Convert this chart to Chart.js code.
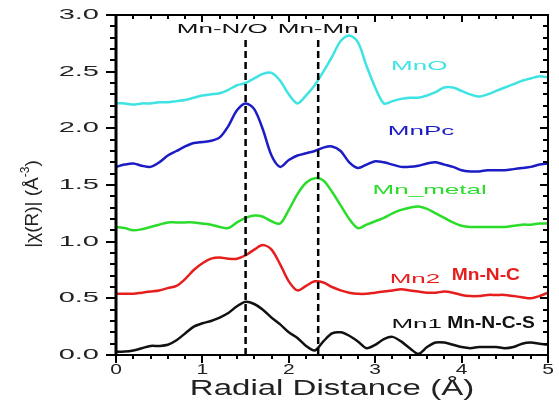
<!DOCTYPE html>
<html>
<head>
<meta charset="utf-8">
<script src="https://cdn.jsdelivr.net/npm/chart.js@4.4.1/dist/chart.umd.min.js"></script>
<style>
  html, body { margin: 0; background: #fff; }
  #wrap { width: 559px; height: 404px; }
</style>
</head>
<body>
<div id="wrap"><canvas id="exafs"></canvas></div>
<script>
// radial distance grid (Å)
const r = [0.0,0.1,0.2,0.3,0.4,0.5,0.6,0.7,0.8,0.9,1.0,1.1,1.2,1.3,1.4,1.5,1.6,1.7,1.8,1.9,
           2.0,2.1,2.2,2.3,2.4,2.5,2.6,2.7,2.8,2.9,3.0,3.1,3.2,3.3,3.4,3.5,3.6,3.7,3.8,3.9,
           4.0,4.1,4.2,4.3,4.4,4.5,4.6,4.7,4.8,4.9,5.0];

// |chi(R)| curves, already offset as in the figure
const mnO = [2.22,2.22,2.21,2.22,2.22,2.23,2.23,2.24,2.25,2.27,2.29,2.30,2.31,2.34,2.38,2.40,2.44,2.48,2.49,2.42,
             2.30,2.22,2.29,2.38,2.50,2.63,2.77,2.82,2.76,2.55,2.36,2.22,2.24,2.26,2.27,2.27,2.29,2.32,2.36,2.36,
             2.33,2.30,2.28,2.30,2.33,2.36,2.39,2.42,2.44,2.46,2.45];
const mnPc = [1.66,1.68,1.69,1.67,1.66,1.70,1.76,1.80,1.84,1.87,1.88,1.89,1.92,2.02,2.16,2.22,2.17,1.99,1.76,1.66,
              1.72,1.76,1.78,1.80,1.83,1.84,1.80,1.70,1.65,1.68,1.71,1.70,1.68,1.66,1.66,1.67,1.69,1.70,1.68,1.66,
              1.63,1.62,1.62,1.63,1.63,1.63,1.64,1.65,1.66,1.68,1.69];
const mnMetal = [1.13,1.12,1.10,1.11,1.13,1.15,1.17,1.17,1.17,1.17,1.16,1.15,1.13,1.12,1.17,1.21,1.23,1.22,1.18,1.16,
                 1.28,1.42,1.52,1.56,1.54,1.44,1.32,1.20,1.12,1.15,1.18,1.21,1.25,1.28,1.30,1.31,1.29,1.25,1.21,1.17,
                 1.14,1.13,1.13,1.13,1.13,1.13,1.14,1.15,1.15,1.16,1.16];
const mn2 = [0.54,0.54,0.54,0.55,0.56,0.57,0.59,0.61,0.67,0.75,0.81,0.85,0.86,0.85,0.85,0.88,0.93,0.97,0.93,0.80,
             0.65,0.57,0.61,0.65,0.64,0.60,0.57,0.55,0.54,0.54,0.55,0.56,0.57,0.58,0.57,0.56,0.55,0.55,0.56,0.55,
             0.53,0.52,0.52,0.53,0.53,0.53,0.52,0.51,0.50,0.52,0.55];
const mn1 = [0.03,0.03,0.04,0.06,0.08,0.08,0.09,0.13,0.19,0.25,0.28,0.30,0.33,0.37,0.43,0.47,0.45,0.40,0.33,0.27,
             0.20,0.15,0.08,0.04,0.12,0.19,0.20,0.17,0.12,0.06,0.09,0.14,0.16,0.12,0.06,0.01,0.07,0.11,0.11,0.09,
             0.07,0.06,0.07,0.07,0.07,0.06,0.07,0.10,0.11,0.10,0.09];

// dashed reference shells
const shellR = [1.5, 2.34];
const shellTop = 2.8;

const xTicks = [0, 1, 2, 3, 4, 5];
const xTickLabels = ['0', '1', '2', '3', '4', '5'];
const yTicks = [0, 0.5, 1.0, 1.5, 2.0, 2.5, 3.0];
const yTickLabels = ['0.0', '0.5', '1.0', '1.5', '2.0', '2.5', '3.0'];

const colors = { mnO: '#3fe3e3', mnPc: '#1c1cc4', mnMetal: '#2bdc2b', mn2: '#e61e1e', mn1: '#111111' };

// text placed in data coordinates: [text, x, y, colour, font, horizontal stretch]
const FONT = '"Liberation Sans", Arial, sans-serif';
const notes = [
  ['Mn-N/O', 1.23, 2.87, '#111', '13px ' + FONT, 2.0],
  ['Mn-Mn', 2.34, 2.87, '#111', '13px ' + FONT, 2.0],
  ['MnO', 3.51, 2.55, colors.mnO, '13px ' + FONT, 2.0],
  ['MnPc', 3.53, 1.97, colors.mnPc, '13px ' + FONT, 2.0],
  ['Mn_metal', 3.63, 1.45, colors.mnMetal, '13px ' + FONT, 2.0],
  ['Mn2', 3.46, 0.67, colors.mn2, '13px ' + FONT, 2.0],
  ['Mn-N-C', 4.28, 0.70, colors.mn2, 'bold 16px ' + FONT, 1.2],
  ['Mn1', 3.48, 0.27, '#111', '13px ' + FONT, 2.0],
  ['Mn-N-C-S', 4.34, 0.28, '#111', 'bold 16px ' + FONT, 1.2]
];

function pts(ys) { return ys.map((y, i) => ({ x: r[i], y: y })); }

function stretchText(ctx, txt, x, y, font, color, sx, align) {
  ctx.save();
  ctx.font = font;
  ctx.fillStyle = color;
  ctx.textBaseline = 'middle';
  ctx.textAlign = 'left';
  const w = ctx.measureText(txt).width * sx;
  const left = align === 'center' ? x - w / 2 : (align === 'right' ? x - w : x);
  ctx.translate(left, y);
  ctx.scale(sx, 1);
  ctx.fillText(txt, 0, 0);
  ctx.restore();
}

const framePlugin = {
  id: 'frame',
  afterDraw(chart) {
    const ctx = chart.ctx, a = chart.chartArea;
    const xs = chart.scales.x, ys = chart.scales.y;
    ctx.save();
    ctx.strokeStyle = '#000';
    ctx.lineWidth = 2;
    ctx.strokeRect(a.left, a.top, a.right - a.left, a.bottom - a.top);
    ctx.lineWidth = 3;
    ctx.beginPath(); ctx.moveTo(a.left, a.top - 1); ctx.lineTo(a.left, a.bottom + 1); ctx.stroke();

    ctx.lineWidth = 2;
    ctx.beginPath();
    // x ticks: bottom outward, top inward
    for (let v = 0; v <= 5.0001; v += 0.2) {
      const px = Math.round(xs.getPixelForValue(v));
      const major = Math.abs(v - Math.round(v)) < 1e-6;
      ctx.moveTo(px, a.bottom); ctx.lineTo(px, a.bottom + (major ? 8 : 4));
      ctx.moveTo(px, a.top); ctx.lineTo(px, a.top + (major ? 7 : 4));
    }
    // y ticks: left outward, right inward
    for (let v = 0; v <= 3.0001; v += 0.1) {
      const py = Math.round(ys.getPixelForValue(v));
      const major = Math.abs(v * 2 - Math.round(v * 2)) < 1e-6;
      ctx.moveTo(a.left, py); ctx.lineTo(a.left - (major ? 10 : 6), py);
      ctx.moveTo(a.right, py); ctx.lineTo(a.right - (major ? 8 : 5), py);
    }
    ctx.stroke();
    ctx.restore();

    xTicks.forEach((v, i) => stretchText(ctx, xTickLabels[i], xs.getPixelForValue(v), a.bottom + 15,
      '14px ' + FONT, '#222', 1.5, 'center'));
    yTicks.forEach((v, i) => stretchText(ctx, yTickLabels[i], a.left - 17, ys.getPixelForValue(v),
      '14.5px ' + FONT, '#222', 2.0, 'right'));

    stretchText(ctx, 'Radial Distance (Å)', (a.left + a.right) / 2, a.bottom + 34,
      '22px ' + FONT, '#222', 1.5, 'center');

    // y title, rotated
    ctx.save();
    ctx.translate(33, 204);
    ctx.rotate(-Math.PI / 2);
    ctx.fillStyle = '#222';
    ctx.textBaseline = 'middle';
    ctx.font = '19px ' + FONT;
    const p1 = '|χ(R)| (Å', sup = '-3', p2 = ')';
    const w1 = ctx.measureText(p1).width, w3 = ctx.measureText(p2).width;
    ctx.font = '12px ' + FONT;
    const w2 = ctx.measureText(sup).width;
    let x0 = -(w1 + w2 + w3) / 2;
    ctx.font = '19px ' + FONT;
    ctx.fillText(p1, x0, 0);
    ctx.font = '12px ' + FONT;
    ctx.fillText(sup, x0 + w1, -7);
    ctx.font = '19px ' + FONT;
    ctx.fillText(p2, x0 + w1 + w2, 0);
    ctx.restore();

    notes.forEach(n => stretchText(ctx, n[0], xs.getPixelForValue(n[1]), ys.getPixelForValue(n[2]),
      n[4], n[3], n[5], 'center'));
  }
};

const line = (label, ys, color) => ({
  label, data: pts(ys), borderColor: color, borderWidth: 2.5, pointRadius: 0, tension: 0.3, fill: false
});

const shells = shellR.map(x => ({
  label: 'shell ' + x, data: [{ x: x, y: 0 }, { x: x, y: shellTop }],
  borderColor: '#000', borderWidth: 2.5, borderDash: [7, 4], pointRadius: 0, tension: 0, fill: false
}));

new Chart(document.getElementById('exafs'), {
  type: 'line',
  data: {
    datasets: [
      ...shells,
      line('MnO', mnO, colors.mnO),
      line('MnPc', mnPc, colors.mnPc),
      line('Mn_metal', mnMetal, colors.mnMetal),
      line('Mn2', mn2, colors.mn2),
      line('Mn1', mn1, colors.mn1)
    ]
  },
  options: {
    responsive: true,
    maintainAspectRatio: false,
    animation: false,
    layout: { padding: { left: 0, right: 11, top: 15, bottom: 0 } },
    plugins: { legend: { display: false }, tooltip: { enabled: false } },
    scales: {
      x: {
        type: 'linear', min: 0, max: 5,
        ticks: { display: false }, grid: { display: false }, border: { display: false },
        afterFit(s) { s.height = 49; }
      },
      y: {
        min: 0, max: 3,
        ticks: { display: false }, grid: { display: false }, border: { display: false },
        afterFit(s) { s.width = 116; }
      }
    }
  },
  plugins: [framePlugin]
});
</script>
</body>
</html>
